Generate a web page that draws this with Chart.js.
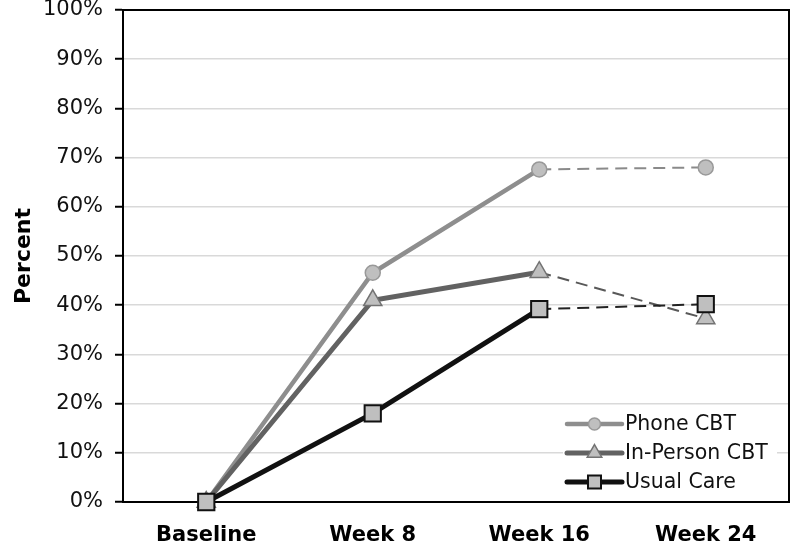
<!DOCTYPE html>
<html>
<head>
<meta charset="utf-8">
<script src="https://cdn.jsdelivr.net/npm/chart.js@4/dist/chart.umd.min.js"></script>
<style>
  html, body { margin: 0; padding: 0; background: #fff; }
  canvas { display: block; }
</style>
</head>
<body>
<canvas id="chart" width="792" height="548"></canvas>
<script>
// Data
const categories = ['Baseline', 'Week 8', 'Week 16', 'Week 24'];
const phoneCBT = [0, 46.6, 67.6, 68.0];
const inPersonCBT = [0, 41.0, 46.7, 37.3];
const usualCare = [0, 18.0, 39.2, 40.2];
const yTicks = [0, 10, 20, 30, 40, 50, 60, 70, 80, 90, 100];

const FONT = "'DejaVu Sans', Verdana, sans-serif";

// Follow-up (Week 16 -> Week 24) segment is drawn thin and dashed
function dashedSeg(color) {
	return {
		borderDash: ctx => ctx.p1DataIndex === 3 ? [12, 7] : undefined,
		borderWidth: ctx => ctx.p1DataIndex === 3 ? 2 : undefined,
		borderColor: ctx => ctx.p1DataIndex === 3 ? color : undefined
	};
}

const datasets = [
	{
		label: 'Phone CBT',
		data: phoneCBT,
		borderColor: '#8e8e8e',
		borderWidth: 4.5,
		pointStyle: 'circle',
		pointRadius: 7.5,
		pointBackgroundColor: '#bfbfbf',
		pointBorderColor: '#999999',
		pointBorderWidth: 1.5,
		segment: dashedSeg('#8a8a8a'),
		order: 2,
		clip: false
	},
	{
		label: 'In-Person CBT',
		data: inPersonCBT,
		borderColor: '#626262',
		borderWidth: 5,
		pointStyle: 'triangle',
		pointRadius: 10.5,
		pointBackgroundColor: '#bfbfbf',
		pointBorderColor: '#737373',
		pointBorderWidth: 1.5,
		segment: dashedSeg('#585858'),
		order: 1,
		clip: false
	},
	{
		label: 'Usual Care',
		data: usualCare,
		borderColor: '#111111',
		borderWidth: 5,
		pointStyle: 'rect',
		pointRadius: 11.5,
		pointBackgroundColor: '#bfbfbf',
		pointBorderColor: '#111111',
		pointBorderWidth: 2,
		segment: dashedSeg('#222222'),
		order: 0,
		clip: false
	}
];

// Black frame around the plot area
const framePlugin = {
	id: 'frame',
	afterDraw(chart) {
		const a = chart.chartArea;
		const c = chart.ctx;
		c.save();
		c.strokeStyle = '#000';
		c.lineWidth = 2;
		c.beginPath();
		c.moveTo(a.left, a.top);
		c.lineTo(a.right, a.top);
		c.lineTo(a.right, a.bottom);
		c.stroke();
		c.restore();
	}
};

// Legend inside the plot, bottom right, line + marker samples
const legendPlugin = {
	id: 'insideLegend',
	afterDatasetsDraw(chart) {
		const c = chart.ctx;
		const x0 = 567, x1 = 622, textX = 625;
		const rows = [424, 453, 482];
		c.save();
		c.fillStyle = '#fff';
		c.fillRect(563, 409, 214, 88);
		chart.data.datasets.forEach((ds, i) => {
			const y = rows[i];
			c.strokeStyle = ds.borderColor;
			c.lineWidth = ds.borderWidth;
			c.lineCap = 'round';
			c.beginPath();
			c.moveTo(x0, y);
			c.lineTo(x1, y);
			c.stroke();
			c.fillStyle = ds.pointBackgroundColor;
			c.strokeStyle = ds.pointBorderColor;
			c.lineWidth = ds.pointBorderWidth;
			Chart.helpers.drawPoint(c, {
				pointStyle: ds.pointStyle,
				radius: ds.pointRadius * 0.8,
				rotation: 0,
				borderWidth: ds.pointBorderWidth
			}, (x0 + x1) / 2, y);
			c.fillStyle = '#111';
			c.font = '20.5px ' + FONT;
			c.textBaseline = 'middle';
			c.textAlign = 'left';
			c.fillText(ds.label, textX, y + 1);
		});
		c.restore();
	}
};

new Chart(document.getElementById('chart'), {
	type: 'line',
	data: { labels: categories, datasets: datasets },
	plugins: [framePlugin, legendPlugin],
	options: {
		responsive: false,
		animation: false,
		layout: { autoPadding: false, padding: { top: 10, right: 3, left: 0, bottom: 0 } },
		plugins: {
			legend: { display: false },
			tooltip: { enabled: false }
		},
		scales: {
			x: {
				offset: true,
				grid: { display: false, drawTicks: false },
				border: { color: '#000', width: 2 },
				ticks: {
					padding: 21,
					color: '#000',
					font: { family: FONT, size: 21, weight: 'bold' }
				},
				afterFit: s => {
					s.height = 46;
					s.paddingLeft = 0;
					s.paddingRight = 0;
				}
			},
			y: {
				min: 0,
				max: 100,
				afterBuildTicks: s => { s.ticks = yTicks.map(v => ({ value: v })); },
				grid: { color: '#d9d9d9', lineWidth: 1.5, tickColor: '#000', tickLength: 8, tickWidth: 2 },
				border: { color: '#000', width: 2 },
				ticks: {
					padding: 12,
					color: '#111',
					font: { family: FONT, size: 21 },
					callback: v => v + '%'
				},
				title: {
					display: true,
					text: 'Percent',
					color: '#000',
					padding: { top: 11, bottom: 0 },
					font: { family: FONT, size: 22, weight: 'bold' }
				},
				afterFit: s => {
					s.width = 123;
					s.paddingTop = 0;
					s.paddingBottom = 0;
				}
			}
		}
	}
});
</script>
</body>
</html>
